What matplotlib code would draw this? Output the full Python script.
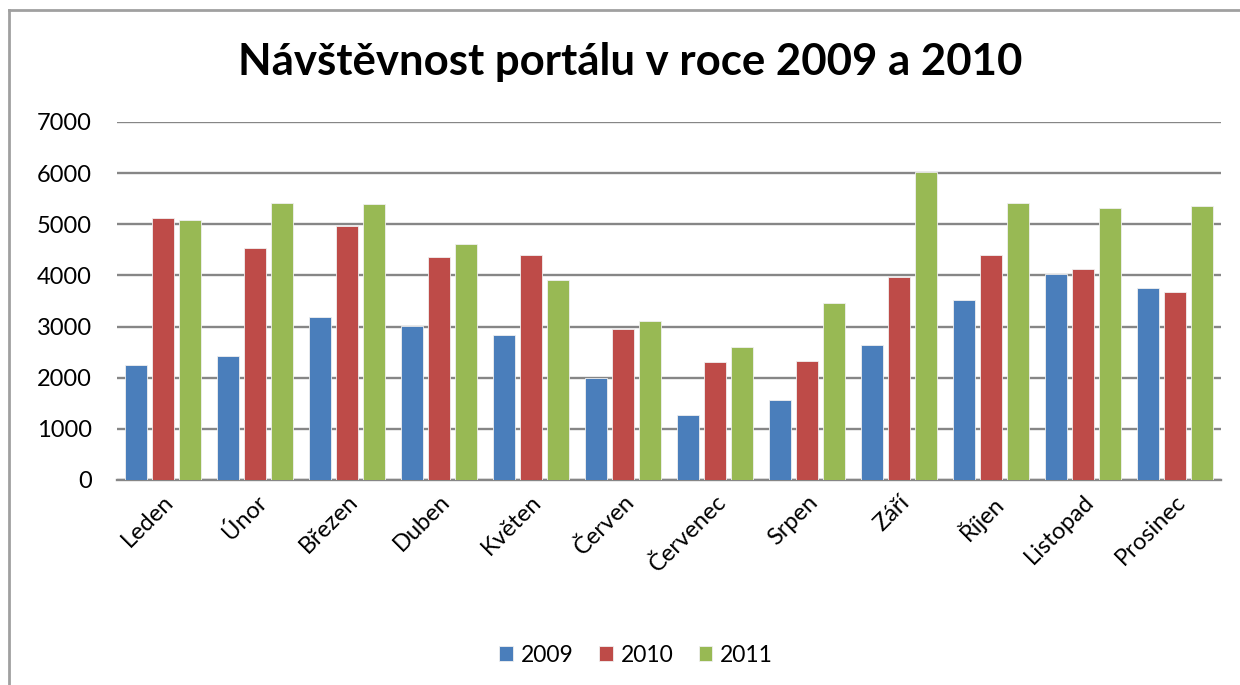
import matplotlib.pyplot as plt
import numpy as np

# months and visitors per year
months = ["Leden", "Únor", "Březen", "Duben", "Květen", "Červen",
          "Červenec", "Srpen", "Září", "Říjen", "Listopad", "Prosinec"]
v2009 = [2250, 2430, 3190, 3010, 2830, 2000, 1280, 1565, 2635, 3510, 4030, 3760]
v2010 = [5130, 4545, 4960, 4360, 4400, 2955, 2305, 2335, 3960, 4390, 4135, 3680]
v2011 = [5090, 5410, 5390, 4605, 3915, 3100, 2610, 3470, 6015, 5415, 5315, 5360]
years = ["2009", "2010", "2011"]
colors = ["#4A7EBB", "#BE4B48", "#98B954"]

plt.rcParams['font.family'] = ['Lato', 'DejaVu Sans']

fig = plt.figure(figsize=(12.4, 6.85), dpi=100)
ax = fig.add_axes([117/1240, 1-480/685, (1221-117)/1240, (480-122)/685])

x = np.arange(len(months))
step = 0.293
for i, (vals, col, yr) in enumerate(zip([v2009, v2010, v2011], colors, years)):
    ax.bar(x + (i-1)*step, vals, width=0.245, color=col, edgecolor='#f0f0f0',
           linewidth=0.6, label=yr, zorder=3)

ax.set_xlim(-0.5, len(months)-0.5)
ax.set_ylim(0, 7000)
ax.set_yticks(range(0, 7001, 1000))
ax.yaxis.grid(True, color='#868686', linewidth=1.7, zorder=0)
ax.set_axisbelow(True)
for s in ['top', 'right', 'left']:
    ax.spines[s].set_visible(False)
ax.spines['bottom'].set_color('#868686')
ax.spines['bottom'].set_linewidth(1.7)
ax.tick_params(axis='y', length=0, pad=18, labelsize=17)
ax.tick_params(axis='x', length=0, pad=8, labelsize=17)
ax.set_xticks(x)
ax.set_xticklabels(months, rotation=45, ha='right', rotation_mode='anchor')

fig.text(0.508, 1-62/685, "Návštěvnost portálu v roce 2009 a 2010", ha='center',
         va='center', fontsize=31.5, fontweight='bold')

fig.legend(loc='center', bbox_to_anchor=(0.513, 1-655/685), ncol=3, frameon=False,
           fontsize=16.5, handlelength=0.6, handleheight=0.6, handletextpad=0.35,
           columnspacing=1.1)

# chart frame (top and left edges visible in the reference)
fig.add_artist(plt.Line2D([9/1240, 1], [1-10/685, 1-10/685], color='#a0a0a0', linewidth=2))
fig.add_artist(plt.Line2D([9/1240, 9/1240], [0, 1-10/685], color='#a0a0a0', linewidth=2))

fig.savefig("out.png", dpi=100, facecolor='white')
